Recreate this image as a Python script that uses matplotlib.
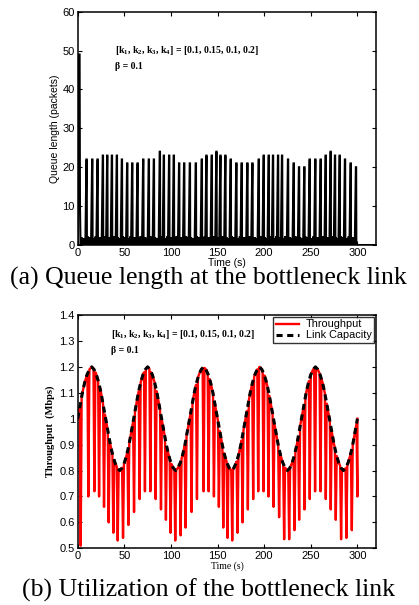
import numpy as np
import matplotlib
matplotlib.use("Agg")
import matplotlib.pyplot as plt
from matplotlib.ticker import FormatStrFormatter, FixedLocator

plt.rcParams['mathtext.fontset'] = 'custom'
plt.rcParams['mathtext.rm'] = 'Liberation Serif:bold'
plt.rcParams['mathtext.it'] = 'Liberation Serif:bold'
plt.rcParams['mathtext.bf'] = 'Liberation Serif:bold'

# ---------------- data ----------------
# queue spikes (time s, height packets)
q_spike_t = [9.6, 15.7, 21.4, 27.1, 31.8, 36.8, 42.1, 47.5, 53.2, 58.6, 64.3,
             70.4, 76.4, 81.8, 88.2, 92.5, 98.2, 103.2, 108.9, 114.3, 120.4,
             126.8, 133.2, 138.2, 143.9, 148.9, 153.2, 158.5, 164.2, 170.3,
             176.0, 182.1, 187.5, 194.3, 199.6, 205.0, 209.6, 215.0, 219.3,
             225.7, 231.8, 237.5, 243.2, 248.9, 255.0, 260.7, 266.1, 271.4,
             276.1, 281.1, 286.8, 292.9, 298.6]
q_spike_h = [22, 22, 22, 23, 23, 23, 23, 22, 21, 21, 21,
             22, 22, 22, 24, 23, 23, 23, 21, 21, 21,
             21, 22, 23, 23, 24, 23, 23, 22, 21,
             21, 21, 21, 22, 23, 23, 23, 23, 23,
             22, 21, 20, 20, 22, 22, 22, 23, 24,
             23, 23, 22, 21, 20]
q_initial_peak = 49          # start-up burst
q_ripple = [2.0, 1.2, 1.8, 1.0, 2.2, 1.4, 1.9]   # small queue ripples near 0

# link capacity (Mbps), sampled every 2.5 s
cap_t = [i * 2.5 for i in range(121)]
cap_v = [1.00, 1.05, 1.10, 1.14, 1.17, 1.19, 1.20, 1.19, 1.17, 1.14, 1.10, 1.05,
         1.00, 0.95, 0.90, 0.86, 0.83, 0.81, 0.80, 0.81, 0.83, 0.86, 0.90, 0.95,
         1.00, 1.05, 1.10, 1.14, 1.17, 1.19, 1.20, 1.19, 1.17, 1.14, 1.10, 1.05,
         1.00, 0.95, 0.90, 0.86, 0.83, 0.81, 0.80, 0.81, 0.83, 0.86, 0.90, 0.95,
         1.00, 1.05, 1.10, 1.14, 1.17, 1.19, 1.20, 1.19, 1.17, 1.14, 1.10, 1.05,
         1.00, 0.95, 0.90, 0.86, 0.83, 0.81, 0.80, 0.81, 0.83, 0.86, 0.90, 0.95,
         1.00, 1.05, 1.10, 1.14, 1.17, 1.19, 1.20, 1.19, 1.17, 1.14, 1.10, 1.05,
         1.00, 0.95, 0.90, 0.86, 0.83, 0.81, 0.80, 0.81, 0.83, 0.86, 0.90, 0.95,
         1.00, 1.05, 1.10, 1.14, 1.17, 1.19, 1.20, 1.19, 1.17, 1.14, 1.10, 1.05,
         1.00, 0.95, 0.90, 0.86, 0.83, 0.81, 0.80, 0.81, 0.83, 0.86, 0.90, 0.95,
         1.00]

# throughput troughs (time s, Mbps); throughput otherwise follows capacity
tp_trough_t = [3.2, 11.4, 17.9, 22.9, 28.2, 33.2, 38.2, 42.9, 48.6, 54.3, 60.4,
               66.4, 72.1, 77.9, 83.6, 89.3, 94.6, 99.6, 104.6, 110.4, 115.7,
               122.1, 127.9, 135.0, 140.4, 146.1, 151.4, 156.1, 160.7, 165.7,
               171.4, 176.8, 182.5, 188.2, 193.6, 199.3, 204.6, 210.0, 216.0,
               221.4, 226.8, 232.5, 237.5, 243.2, 248.9, 254.6, 260.4, 266.1,
               271.4, 276.8, 282.5, 288.2, 294.0, 300.0]
tp_trough_v = [0.51, 0.70, 0.72, 0.70, 0.66, 0.60, 0.56, 0.53, 0.54, 0.59, 0.64,
               0.69, 0.72, 0.72, 0.69, 0.65, 0.61, 0.56, 0.53, 0.55, 0.58,
               0.64, 0.69, 0.72, 0.72, 0.70, 0.66, 0.58, 0.54, 0.53,
               0.56, 0.60, 0.65, 0.69, 0.72, 0.72, 0.70, 0.66, 0.62,
               0.535, 0.535, 0.57, 0.61, 0.65, 0.69, 0.72, 0.72, 0.69,
               0.65, 0.61, 0.535, 0.54, 0.57, 0.70]

# ---------------- build series ----------------
cap_t_a = np.array(cap_t)
cap_v_a = np.array(cap_v)

def cap_at(t):
    return float(np.interp(t, cap_t_a, cap_v_a))

w = 1.0
tp_x, tp_y = [0.0], [cap_at(0.0) + 0.02]
for t, v in zip(tp_trough_t, tp_trough_v):
    t0 = max(t - w, tp_x[-1])
    for ct in cap_t:
        if tp_x[-1] < ct < t0:
            tp_x.append(ct); tp_y.append(cap_at(ct))
    tp_x.append(t0); tp_y.append(cap_at(t0))
    tp_x.append(t); tp_y.append(v)
    t1 = min(t + w, cap_t[-1])
    tp_x.append(t1); tp_y.append(cap_at(t1))

q_x = [0.0, 0.4, 2.0, 2.4, 3.0]
q_y = [0.0, q_initial_peak, q_initial_peak, 10.0, 0.0]
k = 0
for t, h in zip(q_spike_t, q_spike_h):
    start = q_x[-1]
    gap_end = t - 1.4
    n = 4
    for j in range(1, n + 1):
        tt = start + (gap_end - start) * j / (n + 1)
        q_x += [tt - 0.2, tt, tt + 0.2]
        q_y += [0.0, q_ripple[k % len(q_ripple)], 0.0]
        k += 1
    q_x += [gap_end, t - 0.25, t + 0.05, t + 0.25]
    q_y += [0.0, h, h, 0.0]
q_x += [301.0, 318.0]
q_y += [0.0, 0.0]

# ---------------- figure ----------------
fig = plt.figure(figsize=(4.19, 6.05), dpi=100)

def style_axes(ax):
    ax.tick_params(direction='in', top=True, right=True, length=3, width=0.8,
                   labelsize=8, pad=2)
    for s in ax.spines.values():
        s.set_linewidth(1.1)
    for lab in ax.get_xticklabels() + ax.get_yticklabels():
        lab.set_fontfamily('Liberation Sans')

# top: queue length
ax1 = fig.add_axes([0.1855, 0.595, 0.712, 0.3856])
ax1.plot(q_x, q_y, color='black', lw=1.5, solid_joinstyle='miter')
ax1.set_xlim(0, 320)
ax1.set_ylim(0, 60)
ax1.xaxis.set_major_locator(FixedLocator([0, 50, 100, 150, 200, 250, 300]))
ax1.yaxis.set_major_locator(FixedLocator([0, 10, 20, 30, 40, 50, 60]))
style_axes(ax1)
ax1.set_xlabel('Time (s)', fontsize=7.5, family='Liberation Sans', labelpad=0)
ax1.set_ylabel('Queue length (packets)', fontsize=7.5, family='Liberation Sans',
               labelpad=2)
ax1.text(40, 50, r'[k$_1$, k$_2$, k$_3$, k$_4$] = [0.1, 0.15, 0.1, 0.2]',
         fontsize=7, family='Liberation Serif', fontweight='bold', va='center')
ax1.text(40, 46, 'β = 0.1', fontsize=7, family='Liberation Serif',
         fontweight='bold', va='center')

# bottom: throughput
ax2 = fig.add_axes([0.1855, 0.0937, 0.712, 0.3856])
ax2.plot(tp_x, tp_y, color='#ff0000', lw=1.7, label='Throughput')
ax2.plot(cap_t, cap_v, color='black', lw=2.2, linestyle=(0, (2.0, 1.5)),
         label='Link Capacity')
ax2.set_xlim(0, 320)
ax2.set_ylim(0.5, 1.4)
ax2.xaxis.set_major_locator(FixedLocator([0, 50, 100, 150, 200, 250, 300]))
ax2.yaxis.set_major_locator(FixedLocator([0.5, 0.6, 0.7, 0.8, 0.9, 1.0, 1.1,
                                          1.2, 1.3, 1.4]))
ax2.yaxis.set_major_formatter(FormatStrFormatter('%g'))
style_axes(ax2)
ax2.set_xlabel('Time (s)', fontsize=7, family='Liberation Serif', labelpad=0)
ax2.set_ylabel('Throughput  (Mbps)', fontsize=7.5, family='Liberation Serif',
               fontweight='bold', labelpad=3)
ax2.text(36, 1.323, r'[k$_1$, k$_2$, k$_3$, k$_4$] = [0.1, 0.15, 0.1, 0.2]',
         fontsize=7, family='Liberation Serif', fontweight='bold', va='center')
ax2.text(36, 1.262, 'β = 0.1', fontsize=7, family='Liberation Serif',
         fontweight='bold', va='center')
leg = ax2.legend(loc='upper right', frameon=True, fancybox=False,
                 borderaxespad=0.15, handlelength=2.2, borderpad=0.25,
                 labelspacing=0.1, handletextpad=0.6,
                 prop={'family': 'Liberation Sans', 'size': 7.8})
leg.get_frame().set_edgecolor('black')
leg.get_frame().set_linewidth(1.0)

fig.text(0.4976, 0.539, '(a) Queue length at the bottleneck link',
         family='Liberation Serif', fontsize=18.5, ha='center', va='center')
fig.text(0.4976, 0.0248, '(b) Utilization of the bottleneck link',
         family='Liberation Serif', fontsize=18.5, ha='center', va='center')

fig.savefig('out.png', dpi=100)
